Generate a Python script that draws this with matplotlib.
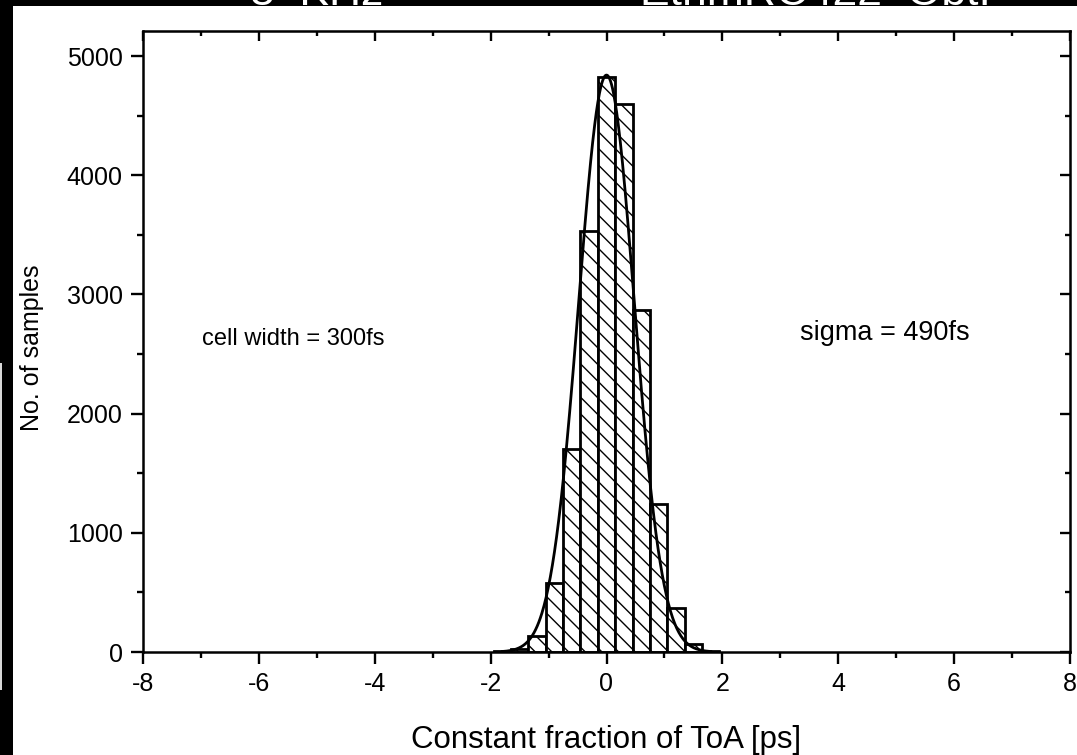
import matplotlib
matplotlib.use("Agg")
import matplotlib.pyplot as plt
import numpy as np
from matplotlib.patches import Rectangle
from matplotlib.ticker import MultipleLocator

plt.rcParams['font.family'] = ['Liberation Sans', 'DejaVu Sans']
plt.rcParams['hatch.linewidth'] = 1.0
plt.rcParams['axes.unicode_minus'] = False

# histogram of constant-fraction ToA, 300 fs cells
bin_centers = [-1.8, -1.5, -1.2, -0.9, -0.6, -0.3, 0.0, 0.3, 0.6, 0.9, 1.2, 1.5, 1.8]
counts = [5, 25, 137, 576, 1703, 3534, 4826, 4597, 2869, 1242, 366, 65, 5]
bin_width = 0.3

# gaussian fit
fit_center = 0.0
fit_sigma = 0.48
fit_amp = 4840

x_ticks = [-8, -6, -4, -2, 0, 2, 4, 6, 8]
y_ticks = [0, 1000, 2000, 3000, 4000, 5000]

W, H = 1077, 755
fig = plt.figure(figsize=(W / 100, H / 100), dpi=100, facecolor='black')

# white slide area, cropped black borders
fig.patches.append(Rectangle((13 / W, 0), 1 - 13 / W, 1 - 6 / H, transform=fig.transFigure,
                             facecolor='white', edgecolor='none', zorder=-2))
fig.patches.append(Rectangle((0, 1 - 690 / H), 2 / W, 327 / H, transform=fig.transFigure,
                             facecolor='#d8d8d8', edgecolor='none', zorder=-2))
fig.text(250 / W, 1 - 5 / H, "8  KHz", color='white', fontsize=32, va='baseline', ha='left')
fig.text(640 / W, 1 - 5 / H, "EthmRC422  ObtI", color='white', fontsize=32, va='baseline', ha='left')

ax = fig.add_axes([143 / W, 1 - 652 / H, 927 / W, 621 / H])
ax.set_facecolor('none')

ax.bar(bin_centers, counts, width=bin_width, color='white', edgecolor='black',
       linewidth=2.0, hatch='\\\\', zorder=2)

xf = np.linspace(-1.8, 1.8, 400)
yf = fit_amp * np.exp(-(xf - fit_center) ** 2 / (2 * fit_sigma ** 2))
ax.plot(xf, yf, color='black', lw=2.0, zorder=3)

ax.set_xlim(-8, 8)
ax.set_ylim(0, 5210)
ax.set_xticks(x_ticks)
ax.set_yticks(y_ticks)
ax.xaxis.set_minor_locator(MultipleLocator(1))
ax.yaxis.set_minor_locator(MultipleLocator(500))
ax.tick_params(which='major', direction='out', length=8.5, width=1.7, labelsize=18, pad=6)
ax.tick_params(which='minor', direction='out', length=4.3, width=1.7)
for s in ax.spines.values():
    s.set_linewidth(1.8)

# top / right ticks point inward
top = ax.secondary_xaxis('top')
top.set_xticks(x_ticks)
top.xaxis.set_minor_locator(MultipleLocator(1))
top.tick_params(which='major', direction='in', length=7, width=1.7, labeltop=False)
top.tick_params(which='minor', direction='in', length=3.6, width=1.7)
right = ax.secondary_yaxis('right')
right.set_yticks(y_ticks)
right.yaxis.set_minor_locator(MultipleLocator(500))
right.tick_params(which='major', direction='in', length=7, width=1.7, labelright=False)
right.tick_params(which='minor', direction='in', length=3.6, width=1.7)

ax.set_xlabel("Constant fraction of ToA [ps]", fontsize=22.5, va='center')
ax.xaxis.set_label_coords(0.5, (652 - 740) / 621)
ax.set_ylabel("No. of samples", fontsize=18, va='center', ha='center')
ax.yaxis.set_label_coords((32 - 143) / 927, (652 - 348) / 621)

ax.text(-6.98, 2630, "cell width = 300fs", fontsize=17, va='center', ha='left')
ax.text(3.34, 2675, "sigma = 490fs", fontsize=19.5, va='center', ha='left')

fig.savefig("out.png", dpi=100, facecolor=fig.get_facecolor())
